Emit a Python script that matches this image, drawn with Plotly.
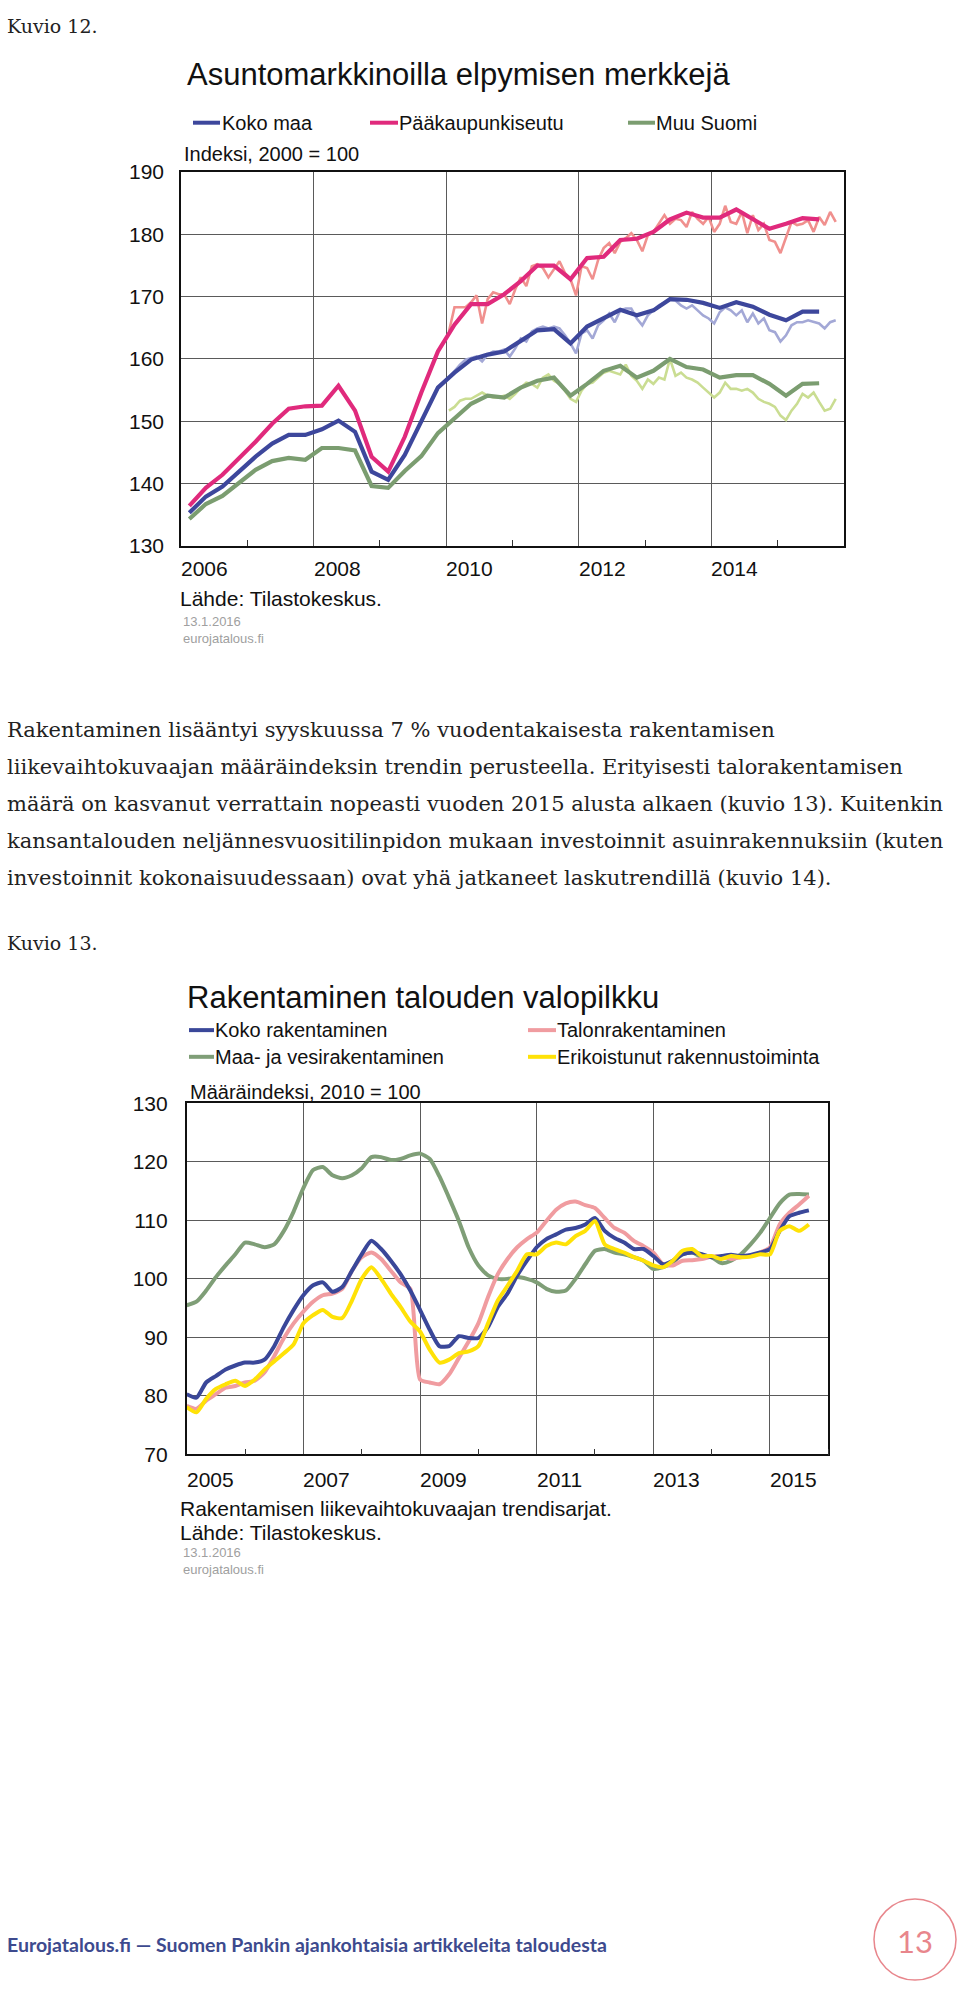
import plotly.graph_objects as go

W, H = 960, 1995

# ---------------- Chart 1 data (Kuvio 12) ----------------
quarters1 = [f"{y}Q{q}" for y in range(2006, 2016) for q in range(1, 5)][:39]
koko_maa_q = [135.3, 137.9, 139.5, 141.9, 144.3, 146.4, 147.8, 147.8, 148.7, 150.1,
              148.3, 141.9, 140.6, 144.6, 150.1, 155.4, 157.8, 159.9, 160.7, 161.2,
              162.9, 164.6, 164.8, 162.5, 165.2, 166.5, 167.9, 167.0, 167.8, 169.6,
              169.5, 169.0, 168.2, 169.1, 168.4, 167.1, 166.2, 167.6, 167.6]
paakaupunkiseutu_q = [136.4, 139.3, 141.4, 144.0, 146.7, 149.6, 152.0, 152.4, 152.5, 155.7,
                      151.7, 144.3, 141.9, 147.5, 154.6, 161.2, 165.5, 168.8, 168.8, 170.4,
                      172.5, 175.0, 175.0, 172.8, 176.2, 176.4, 179.1, 179.3, 180.4, 182.4,
                      183.5, 182.7, 182.7, 184.0, 182.5, 180.9, 181.7, 182.6, 182.4]
muu_suomi_q = [134.3, 136.7, 138.0, 140.1, 142.2, 143.6, 144.1, 143.8, 145.7, 145.7,
               145.3, 139.6, 139.3, 142.0, 144.4, 148.1, 150.4, 152.8, 154.1, 153.8,
               155.4, 156.5, 157.0, 154.1, 156.0, 158.1, 158.9, 157.0, 158.1, 160.0,
               158.7, 158.3, 157.0, 157.4, 157.4, 156.0, 154.1, 156.0, 156.1]

months1 = [f"{y}-{m:02d}" for y in range(2010, 2016) for m in range(1, 13)][:71]
koko_maa_m = [157.0, 158.1, 159.1, 159.9, 160.2, 160.4, 159.6, 160.7, 161.2, 161.2, 161.5, 160.4,
              161.7, 163.3, 162.8, 164.4, 164.9, 165.2, 164.9, 165.2, 164.9, 163.8, 162.5, 160.9,
              164.1, 164.6, 163.3, 165.4, 166.2, 167.3, 165.9, 167.8, 168.1, 168.1, 166.5, 165.4,
              167.0, 167.8, 168.6, 169.1, 169.6, 169.4, 168.6, 168.1, 168.6, 167.8, 167.0, 166.5,
              165.7, 167.5, 168.3, 167.8, 167.0, 167.8, 165.9, 167.3, 165.7, 166.5, 164.6, 164.3,
              162.8, 163.8, 165.4, 165.9, 165.9, 166.2, 165.9, 165.7, 164.9, 165.9, 166.2]
paakaupunkiseutu_m = [164.4, 168.3, 168.3, 168.3, 169.1, 170.2, 165.7, 169.6, 170.7, 170.4, 170.4, 168.8,
                      171.2, 173.1, 171.7, 174.9, 175.2, 174.6, 173.1, 174.4, 175.7, 173.8, 172.8, 170.2,
                      174.9, 174.6, 172.8, 175.9, 177.8, 178.6, 177.0, 178.8, 179.4, 180.2, 179.1, 177.3,
                      179.9, 180.4, 181.7, 183.1, 181.7, 182.5, 182.3, 181.2, 183.6, 182.5, 181.7, 182.8,
                      180.4, 181.7, 184.6, 182.0, 181.7, 183.6, 180.2, 183.1, 180.7, 181.7, 179.1, 178.8,
                      177.0, 179.4, 182.0, 181.5, 181.7, 182.3, 180.4, 182.8, 181.5, 183.6, 182.0]
muu_suomi_m = [151.7, 152.3, 153.3, 153.6, 153.6, 154.1, 154.6, 154.1, 153.8, 153.8, 154.1, 153.6,
               154.4, 155.4, 156.2, 156.0, 155.4, 157.0, 157.5, 156.5, 156.0, 154.9, 153.6, 153.1,
               154.9, 156.0, 156.2, 157.0, 157.8, 158.1, 157.8, 157.5, 159.1, 157.3, 156.5, 155.2,
               156.7, 156.0, 157.0, 156.7, 160.0, 157.3, 157.8, 157.0, 156.7, 156.2, 155.4, 154.6,
               153.8, 154.6, 156.2, 155.2, 155.2, 154.9, 155.2, 154.6, 153.6, 153.1, 152.8, 152.3,
               150.9, 150.2, 151.7, 152.8, 154.4, 153.8, 154.6, 153.1, 151.7, 152.0, 153.6]
xticks1 = ["2006", "2008", "2010", "2012", "2014"]

# ---------------- Chart 2 data (Kuvio 13) ----------------
months2 = [f"{2005 + k // 6}-{(k % 6) * 2 + 1:02d}" for k in range(65)]
koko_rak = [80.3, 79.7, 82.3, 83.4, 84.5, 85.2, 85.7, 85.7, 86.2, 88.5, 91.8, 94.7, 97.2, 98.9, 99.4,
            97.8, 98.6, 101.4, 104.2, 106.5, 105.1, 103.1, 100.8, 98.0, 94.7, 91.3, 88.5, 88.5, 90.2,
            89.9, 89.9, 91.8, 95.2, 97.5, 100.6, 103.1, 105.4, 106.8, 107.6, 108.4, 108.7, 109.3,
            110.4, 108.2, 107.0, 106.2, 105.1, 105.1, 103.9, 102.5, 103.1, 104.2, 104.5, 104.2,
            103.7, 103.9, 104.1, 103.9, 104.1, 104.5, 105.1, 108.2, 110.7, 111.3, 111.7]
talonrak = [78.3, 77.8, 79.2, 80.3, 81.4, 81.7, 82.3, 82.6, 84.0, 86.8, 89.9, 92.4, 94.4, 96.1, 97.2,
            97.5, 98.3, 101.4, 103.7, 104.5, 103.4, 101.4, 99.4, 98.3, 82.8, 82.3, 82.0, 83.7, 86.5,
            89.3, 92.4, 96.9, 100.8, 103.4, 105.4, 106.8, 107.9, 109.9, 111.8, 112.9, 113.2, 112.6,
            112.1, 110.4, 108.7, 107.9, 106.5, 105.6, 104.5, 102.5, 102.3, 103.1, 103.2, 103.4,
            103.8, 103.8, 103.4, 103.7, 103.9, 104.5, 105.4, 109.3, 111.3, 112.7, 114.2]
maa_vesi = [95.5, 96.1, 98.0, 100.3, 102.3, 104.2, 106.2, 105.9, 105.4, 105.9, 108.2, 111.5, 115.5,
            118.6, 119.1, 117.7, 117.2, 117.7, 118.9, 120.8, 120.8, 120.3, 120.5, 121.1, 121.4,
            120.5, 117.5, 113.8, 109.9, 105.4, 102.3, 100.6, 100.0, 100.0, 100.3, 100.0, 99.4, 98.3,
            97.8, 98.0, 100.0, 102.5, 104.8, 105.1, 104.5, 104.2, 103.7, 103.1, 101.7, 102.0, 102.8,
            104.2, 104.5, 103.7, 103.7, 102.7, 103.1, 104.2, 105.9, 107.9, 110.4, 112.9, 114.4,
            114.5, 114.4]
erikoistunut = [78.1, 77.2, 79.5, 81.2, 82.0, 82.6, 81.7, 82.8, 84.5, 85.9, 87.3, 88.8, 92.4, 93.8,
                94.7, 93.5, 93.3, 96.3, 100.0, 102.0, 100.0, 97.5, 95.2, 92.7, 91.0, 87.9, 85.7, 86.2,
                87.3, 87.6, 88.5, 92.4, 96.3, 98.8, 101.4, 104.2, 104.2, 105.6, 106.2, 105.9, 107.3,
                108.2, 109.9, 105.9, 105.1, 104.5, 103.7, 103.1, 102.3, 102.0, 103.1, 104.8, 105.1,
                103.9, 103.9, 103.4, 103.9, 103.7, 103.8, 104.2, 104.2, 108.2, 109.0, 108.2, 109.3]
xticks2 = ["2005", "2007", "2009", "2011", "2013", "2015"]


def q_to_year(q):
    y, n = q.split("Q")
    return int(y) + (int(n) - 0.5) / 4


def m_mid(m):
    y, mm = m.split("-")
    return int(y) + (int(mm) - 0.5) / 12


def m_start(m):
    y, mm = m.split("-")
    return int(y) + (int(mm) - 1) / 12


xq = [q_to_year(q) for q in quarters1]
xm = [m_mid(m) for m in months1]
x2 = [m_start(m) for m in months2]

BLUE1, BLUE1L = "#3d479c", "#a3a8d6"
PINK1, PINK1L = "#e02a7c", "#f0908e"
GREEN1, GREEN1L = "#7b9d70", "#cadd92"

BLUE2, PINK2, GREEN2, YELLOW2 = "#3a4799", "#f09ca0", "#7f9e77", "#ffe207"

fig = go.Figure()
# Chart 1 thin (monthly) then thick (quarterly)
for y, c in [(koko_maa_m, BLUE1L), (paakaupunkiseutu_m, PINK1L), (muu_suomi_m, GREEN1L)]:
    fig.add_trace(go.Scatter(x=xm, y=y, mode="lines", line=dict(color=c, width=2.6),
                             xaxis="x", yaxis="y", showlegend=False, hoverinfo="skip"))
for y, c in [(koko_maa_q, BLUE1), (paakaupunkiseutu_q, PINK1), (muu_suomi_q, GREEN1)]:
    fig.add_trace(go.Scatter(x=xq, y=y, mode="lines", line=dict(color=c, width=4.2),
                             xaxis="x", yaxis="y", showlegend=False, hoverinfo="skip"))
# Chart 2
for y, c in [(maa_vesi, GREEN2), (talonrak, PINK2), (koko_rak, BLUE2), (erikoistunut, YELLOW2)]:
    fig.add_trace(go.Scatter(x=x2, y=y, mode="lines", line=dict(color=c, width=4, shape="spline", smoothing=0.6),
                             xaxis="x2", yaxis="y2", showlegend=False, hoverinfo="skip"))

FONT = "Liberation Sans, Arial, sans-serif"
SERIF = "DejaVu Serif, Georgia, serif"


def px(xp):
    return xp / W


def py(yp):
    return 1 - yp / H


ax_common = dict(showline=True, mirror=True, linecolor="#111", linewidth=1.6, zeroline=False,
                 showgrid=True, gridcolor="#5a5a5a", gridwidth=1, ticks="", fixedrange=True)

fig.update_layout(
    width=W, height=H, margin=dict(l=0, r=0, t=0, b=0),
    paper_bgcolor="white", plot_bgcolor="white", showlegend=False,
    xaxis=dict(domain=[px(181), px(844)], range=[2006, 2016], tick0=2006, dtick=2,
               showticklabels=False, anchor="y",
               minor=dict(dtick=1, tick0=2006, ticks="inside", ticklen=6, tickcolor="#333", showgrid=False),
               **ax_common),
    yaxis=dict(domain=[py(540), py(162)], range=[130, 190], dtick=10, anchor="x",
               tickfont=dict(family=FONT, size=21, color="#111"), ticklabelstandoff=11,
               **ax_common),
    xaxis2=dict(domain=[px(186.7), px(828.3)], range=[2005, 2016], tick0=2005, dtick=2,
                showticklabels=False, anchor="y2",
                minor=dict(dtick=1, tick0=2005, ticks="inside", ticklen=6, tickcolor="#333", showgrid=False),
                **ax_common),
    yaxis2=dict(domain=[py(1459.3), py(1104)], range=[70, 130], dtick=10, anchor="x2",
                tickfont=dict(family=FONT, size=21, color="#111"), ticklabelstandoff=13,
                **ax_common),
)

ann = []
shapes = []


def text(x, y, s, size, family=FONT, color="#111", xanchor="left"):
    ann.append(dict(x=px(x), y=py(y), xref="paper", yref="paper", text=s, showarrow=False,
                    xanchor=xanchor, yanchor="middle", font=dict(family=family, size=size, color=color)))


def swatch(x0, x1, y, color):
    shapes.append(dict(type="line", xref="paper", yref="paper", x0=px(x0), x1=px(x1), y0=py(y), y1=py(y),
                       line=dict(color=color, width=4)))


# Page text
text(5, 14, "Kuvio 12.", 19, SERIF, "#222")
body = ["Rakentaminen lisääntyi syyskuussa 7 % vuodentakaisesta rakentamisen",
        "liikevaihtokuvaajan määräindeksin trendin perusteella. Erityisesti talorakentamisen",
        "määrä on kasvanut verrattain nopeasti vuoden 2015 alusta alkaen (kuvio 13). Kuitenkin",
        "kansantalouden neljännesvuositilinpidon mukaan investoinnit asuinrakennuksiin (kuten",
        "investoinnit kokonaisuudessaan) ovat yhä jatkaneet laskutrendillä (kuvio 14)."]
for i, line in enumerate(body):
    text(5, 726 + i * 37.5, line, 21, SERIF, "#222")
text(5, 942, "Kuvio 13.", 19, SERIF, "#222")

# Chart 1 texts
text(185, 63, "Asuntomarkkinoilla elpymisen merkkejä", 31)
swatch(193, 220, 112, BLUE1)
text(220, 112, "Koko maa", 20)
swatch(370, 398, 112, PINK1)
text(397, 112, "Pääkaupunkiseutu", 20)
swatch(628, 655, 112, GREEN1)
text(654, 112, "Muu Suomi", 20)
text(182, 144, "Indeksi, 2000 = 100", 20)
for lab in xticks1:
    ann.append(dict(x=int(lab), xref="x", y=py(563), yref="paper", text=lab, showarrow=False,
                    xanchor="left", yanchor="middle", xshift=-2, font=dict(family=FONT, size=21, color="#111")))
text(178, 593, "Lähde: Tilastokeskus.", 21)
text(181, 617, "13.1.2016", 13, FONT, "#a0a0a0")
text(181, 634, "eurojatalous.fi", 13, FONT, "#a0a0a0")

# Chart 2 texts
text(185, 997, "Rakentaminen talouden valopilkku", 31)
swatch(189, 214, 1030, BLUE2)
text(213, 1030, "Koko rakentaminen", 20)
swatch(528, 556, 1030, PINK2)
text(555, 1030, "Talonrakentaminen", 20)
swatch(189, 214, 1057, GREEN2)
text(213, 1057, "Maa- ja vesirakentaminen", 20)
swatch(528, 556, 1057, YELLOW2)
text(555, 1057, "Erikoistunut rakennustoiminta", 20)
text(188, 1093, "Määräindeksi, 2010 = 100", 20)
for lab in xticks2:
    ann.append(dict(x=int(lab), xref="x2", y=py(1485), yref="paper", text=lab, showarrow=False,
                    xanchor="left", yanchor="middle", xshift=-2, font=dict(family=FONT, size=21, color="#111")))
text(178, 1514, "Rakentamisen liikevaihtokuvaajan trendisarjat.", 21)
text(178, 1538, "Lähde: Tilastokeskus.", 21)
text(181, 1558, "13.1.2016", 13, FONT, "#a0a0a0")
text(181, 1576, "eurojatalous.fi", 13, FONT, "#a0a0a0")

# Footer
text(5, 1955, "<b>Eurojatalous.fi — Suomen Pankin ajankohtaisia artikkeleita taloudesta</b>", 19.5,
     "Lato, Open Sans, sans-serif", "#3d4a8e")
cx, cy, r = 915, 1950, 41
shapes.append(dict(type="circle", xref="paper", yref="paper", x0=px(cx - r), x1=px(cx + r),
                   y0=py(cy + r), y1=py(cy - r), line=dict(color="#e8868c", width=1.5)))
text(cx, cy + 1, "13", 31, "Lato, Open Sans, sans-serif", "#e8868c", xanchor="center")

fig.update_layout(annotations=ann, shapes=shapes)
fig.write_html("out.html")
